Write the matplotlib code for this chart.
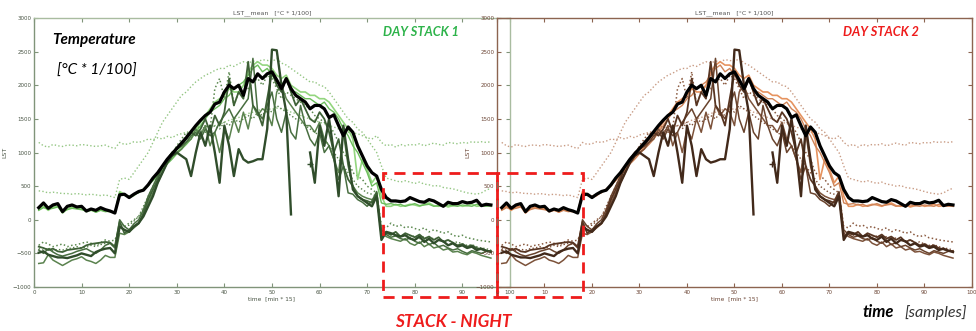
import numpy as np
import matplotlib
matplotlib.use("Agg")
import matplotlib.pyplot as plt
from matplotlib.patches import Rectangle

nan = np.nan
t = np.arange(1, 97)

# mean LST per 15-min sample
lst_mean = [180, 250, 170, 220, 240, 120, 200, 220, 190, 200, 130, 160, 140, 180, 150, 130, 100,
            370, 380, 330, 380, 420, 440, 520, 620, 700, 800, 900, 980, 1060,
            1140, 1220, 1310, 1400, 1480, 1550, 1600, 1720, 1750, 1900, 2000, 1950, 2000, 1850,
            2100, 2050, 2170, 2100, 2170, 2200, 2080, 1950, 2100,
            1950, 1850, 1800, 1750, 1650, 1700, 1700, 1650, 1520, 1560, 1400, 1250, 1380, 1300, 1100, 950, 800, 700, 650,
            450, 330, 280, 280, 270, 280, 330, 300, 270, 260, 300, 280, 240, 200, 260, 240, 240, 270, 250, 260, 290, 210, 230, 220]

# single scenes, warm group
scene_lg = [150, 200, 140, 190, 200, 100, 160, 190, 170, 170, 120, 140, 120, 150, 130, 120, 100,
            420, 380, 330, 360, 420, 440, 500, 600, 680, 760, 850, 930, 1000,
            1080, 1150, 1250, 1350, 1450, 1550, 1650, 1750, 1800, 1850, 1950, 1900, 1900, 2000,
            2200, 2300, 2350, 2300, 2300, 2250, 2150, 2100, 2150,
            2000, 1950, 1900, 1900, 1850, 1850, 1800, 1800, 1750, 1650, 1550, 1450, 1350, 1200, 600, 900, 750, 550, 650,
            350, 200, 200, 230, 200, 210, 230, 220, 200, 230, 250, 210, 200, 220, 190, 210, 230, 200, 210, 230, 200, 210, 220, 200]

scene_mg = [140, 180, 160, 170, 190, 120, 150, 170, 160, 150, 130, 150, 110, 140, 120, 130, 110,
            400, 360, 350, 380, 400, 460, 520, 580, 660, 740, 830, 900, 980,
            1050, 1120, 1200, 1300, 1400, 1500, 1600, 1650, 1700, 1800, 1850, 1950, 2000, 2050,
            2150, 2250, 2300, 2200, 2250, 2150, 2050, 2000, 2100,
            1900, 1900, 1850, 1800, 1800, 1750, 1700, 1750, 1650, 1600, 1500, 1350, 1250, 1100, 1000, 850, 700, 500, 550,
            250, 230, 240, 220, 230, 200, 220, 240, 210, 220, 230, 200, 210, 200, 220, 210, 200, 220, 210, 200, 230, 210, 200, 210]

# single scenes, cold group
scene_a = [-490, -470, -520, -540, -560, -560, -570, -550, -530, -500, -520, -540, -480, -450, -430, -420, -500,
           -100, -150, -180, -100, -50, 50, 200, 350, 550, 700, 850, 950, 1000,
           950, 900, 650, 1000, 1300, 1100, 1400, 1000, 550, 1400, 1100, 650, 1050, 900,
           850, 870, 900, 900, 1350, 2530, 2520, 2000, 1600,
           80, nan, nan, nan, 1000, 550, 1400, 1100, 1500, 1000, 350, 1400, 900, 450, 350, 300, 250, 200, 350,
           -300, -180, -200, -230, -250, -230, -280, -300, -250, -330, -280, -350, -300, -320, -380, -350, -400, -380, -420, -400, -450, -430, -460, -480]

scene_b = [-400, -420, -450, -430, -470, -480, -450, -440, -430, -420, -380, -360, -350, -340, -330, -340, -400,
           -30, -200, -150, -100, -50, 100, 300, 450, 600, 800, 900, 1000, 1050,
           1100, 1200, 1300, 1250, 1350, 1500, 1300, 1550, 1400, 1600, 2100, 1700, 1900, 1800,
           2350, 1700, 1600, 1400, 1800, 2200, 2000, 1900, 2100,
           1900, 1700, 1800, 1650, 1500, 1450, 1600, 1500, 1300, 1000, 1200, 800, 600, 500, 350, 300, 280, 250, 400,
           -250, -200, -220, -180, -250, -200, -230, -260, -220, -280, -250, -300, -260, -330, -300, -340, -380, -360, -400, -380, -420, -440, -460, -470]

scene_c = [-650, -640, -520, -600, -640, -680, -640, -600, -580, -550, -600, -620, -650, -600, -530, -560, -560,
           -200, -220, -180, -120, -60, 80, 250, 400, 550, 700, 850, 950, 1000,
           1050, 1150, 1200, 1350, 1250, 1400, 1100, 1300, 1000, 1350, 1200, 1500, 1300, 1600,
           1350, 1700, 1550, 1650, 1600, 1400, 1900, 2000, 1800,
           1700, 1600, 1500, 1400, 1400, 1300, 1450, 1200, 1100, 900, 700, 1300, 800, 500, 400, 350, 320, 300, 330,
           -200, -250, -280, -300, -320, -280, -350, -380, -330, -400, -360, -420, -400, -450, -430, -480, -470, -500, -520, -480, -500, -530, -550, -570]

scene_e = [-450, -500, -430, -480, -520, -540, -520, -500, -470, -450, -430, -470, -500, -450, -380, -350, -420,
           0, -100, -150, -60, 0, 150, 350, 500, 650, 800, 900, 980, 1050,
           1100, 1150, 1250, 1300, 1200, 1350, 1250, 1300, 1450, 1550, 1650, 1500, 1600, 1700,
           1800, 2400, 1600, 1500, 1700, 1900, 1500, 1300, 1600,
           1300, 1200, 1700, 1400, 1200, 1100, 1300, 1000, 1100, 900, 600, 800, 400, 380, 300, 260, 200, 280, 420,
           -150, -220, -260, -240, -280, -300, -270, -320, -350, -300, -370, -340, -400, -380, -420, -450, -430, -470, -500, -460, -480, -500, -470, -460]

# statistics (dotted)
stat_upper = [1150, 1100, 1080, 1120, 1100, 1090, 1110, 1110, 1100, 1120, 1110, 1100, 1090, 1100, 1110, 1080, 1060,
              1150, 1120, 1130, 1160, 1150, 1170, 1200, 1190, 1220, 1200, 1240, 1220, 1260,
              1280, 1300, 1320, 1350, 1370, 1400, 1380, 1400, 1420, 1450, 1480, 1500, 1520, 1550,
              1580, 1600, 1620, 1650, 1640, 1650, 1660, 1650, 1640,
              1600, 1580, 1550, 1520, 1500, 1480, 1450, 1430, 1400, 1380, 1350, 1320, 1300, 1290, 1280, 1250, 1220, 1200, 1250,
              1150, 1100, 1120, 1080, 1120, 1100, 1120, 1110, 1130, 1100, 1120, 1140, 1120, 1110, 1150, 1140, 1130, 1150, 1140, 1160, 1150, 1160, 1150, 1160]

stat_max = [430, 420, 400, 410, 400, 390, 390, 380, 390, 380, 370, 380, 370, 360, 370, 350, 330,
            600, 620, 600, 700, 800, 900, 1000, 1150, 1300, 1450, 1550, 1650, 1750,
            1850, 1900, 1980, 2050, 2100, 2150, 2180, 2220, 2250, 2250, 2300, 2280, 2320, 2350,
            2330, 2360, 2350, 2380, 2370, 2350, 2400, 2330, 2300,
            2250, 2200, 2150, 2100, 2050, 2050, 2000, 1980, 1900, 1800, 1700, 1600, 1500, 1450, 1350, 1300, 1200, 1100, 1000,
            800, 620, 600, 580, 560, 580, 560, 540, 560, 530, 520, 500, 510, 480, 470, 460, 440, 420, 400, 390, 380, 400, 440, 470]

stat_lo1 = [-380, -330, -360, -400, -380, -360, -400, -380, -370, -350, -330, -350, -380, -340, -300, -320, -300,
            -150, -100, -50, 0, 50, 150, 300, 450, 600, 750, 880, 980, 1100,
            1200, 1300, 1250, 1350, 1300, 1400, 1350, 1950, 2100, 1800, 2200, 1700, 1900, 2000,
            1950, 2050, 2100, 2000, 2150, 2100, 1950, 1800, 1900,
            1850, 1800, 1750, 1700, 1650, 1550, 1500, 1450, 1400, 1300, 1150, 1000, 900, 700, 650, 600, 500, 450, 400,
            -100, -120, -50, -100, -80, -120, -100, -130, -150, -120, -180, -150, -170, -200, -180, -230, -250, -230, -270, -280, -300, -310, -320, -330]

stat_lo2 = [-430, -450, -420, -460, -440, -450, -430, -420, -400, -420, -410, -380, -400, -370, -350, -360, -380,
            -50, -100, -80, -20, 50, 200, 350, 500, 650, 800, 900, 1000, 1080,
            1150, 1250, 1300, 1350, 1400, 1300, 1350, 1400, 1350, 1450, 1400, 1500, 1450, 1500,
            1550, 1500, 1600, 1550, 1650, 1600, 1700, 1650, 1600,
            1550, 1500, 1450, 1400, 1350, 1300, 1250, 1200, 1100, 1000, 900, 800, 700, 600, 500, 450, 400, 380, 350,
            -200, -180, -230, -200, -250, -220, -260, -240, -280, -250, -300, -270, -290, -320, -300, -340, -330, -360, -380, -370, -400, -420, -430, -450]

plus_t = [58]
plus_v = [830]

night_start1 = 73.3   # start of night window in stack 1
night_end1 = 97.3
night_end2 = 18.1     # end of night window in stack 2
night_lo, night_hi = -1150, 700

palettes = {
    "green": dict(spine="#80947a", tick="#4a5545", lg="#93d67f", mg="#6cbd5c",
                  a="#304d2b", b="#3e6136", c="#5a824e", e="#486e40",
                  dup="#94c683", dmax="#94c683", dlo1="#5d8a51", dlo2="#56804a"),
    "brown": dict(spine="#8c6450", tick="#6b4535", lg="#e6935f", mg="#cf8458",
                  a="#42291a", b="#583522", c="#7c523a", e="#69432d",
                  dup="#c99c85", dmax="#c99c85", dlo1="#8a5a40", dlo2="#7e5038"),
}

fig = plt.figure(figsize=(9.76, 3.31), dpi=100)
ax1 = fig.add_axes([0.0348, 0.1329, 0.4877, 0.8127])
ax2 = fig.add_axes([0.5092, 0.1329, 0.4867, 0.8127])
ax2.patch.set_alpha(0)

dot = (0, (1, 1.6))

for ax, name in [(ax1, "green"), (ax2, "brown")]:
    p = palettes[name]
    ax.plot(t, stat_upper, color=p["dup"], lw=1.0, ls=dot)
    ax.plot(t, stat_max, color=p["dmax"], lw=1.0, ls=dot)
    ax.plot(t, stat_lo1, color=p["dlo1"], lw=1.1, ls=dot)
    ax.plot(t, stat_lo2, color=p["dlo2"], lw=1.0, ls=dot)
    ax.plot(t, scene_lg, color=p["lg"], lw=1.2)
    ax.plot(t, scene_mg, color=p["mg"], lw=1.0)
    ax.plot(t, scene_c, color=p["c"], lw=1.1)
    ax.plot(t, scene_e, color=p["e"], lw=1.1)
    ax.plot(t, scene_b, color=p["b"], lw=1.3)
    ax.plot(t, scene_a, color=p["a"], lw=1.7)
    ax.plot(plus_t, plus_v, "+", color=p["a"], ms=5, mew=1)
    ax.plot(t, lst_mean, color="black", lw=2.3)

    ax.set_xlim(0, 100)
    ax.set_ylim(-1000, 3000)
    ax.set_xticks(np.arange(0, 101, 10))
    ax.set_yticks(np.arange(-1000, 3001, 500))
    ax.tick_params(direction="in", length=3, width=0.8, top=True, right=True,
                   labelsize=4, colors=p["spine"], labelcolor=p["tick"], pad=2)
    for s in ax.spines.values():
        s.set_color(p["spine"])
        s.set_linewidth(1.0)
    ax.set_title("LST__mean   [°C * 1/100]", fontsize=4.5, color="#555555", pad=3)
    ax.set_xlabel("time  [min * 15]", fontsize=4.2, color=p["tick"], labelpad=1)
    ax.set_ylabel("LST", fontsize=4.5, color=p["tick"], labelpad=4)

ax1.spines["right"].set_color("#a9bca0")
ax1.spines["top"].set_color("#a9bca0")

# night windows
box = dict(fill=False, edgecolor="#ee1c1c", lw=2.0, ls=(0, (4, 2.6)), clip_on=False, zorder=10)
ax1.add_patch(Rectangle((night_start1, night_lo), night_end1 - night_start1, night_hi - night_lo, **box))
ax2.add_patch(Rectangle((0, night_lo), night_end2, night_hi - night_lo, **box))

font = ["Lato", "DejaVu Sans"]
fig.text(0.053, 0.878, "Temperature", fontsize=11, fontweight="bold", fontstyle="italic",
         family=font, va="center")
fig.text(0.058, 0.787, "[°C * 1/100]", fontsize=11, fontstyle="italic", family=font, va="center")
fig.text(0.392, 0.903, "DAY STACK 1", fontsize=9.2, fontweight="bold", fontstyle="italic",
         family=font, color="#2db34a", va="center")
fig.text(0.864, 0.903, "DAY STACK 2", fontsize=9.2, fontweight="bold", fontstyle="italic",
         family=font, color="#ee1c1c", va="center")
fig.text(0.464, 0.027, "STACK - NIGHT", fontsize=12.5, fontweight="bold", fontstyle="italic",
         family=font, color="#ee1c1c", ha="center", va="center")
fig.text(0.884, 0.057, "time", fontsize=12, fontweight="bold", fontstyle="italic",
         family=font, va="center")
fig.text(0.927, 0.057, "[samples]", fontsize=11.5, fontstyle="italic", family=font,
         color="#333333", va="center")

fig.savefig("out.png", dpi=100)
